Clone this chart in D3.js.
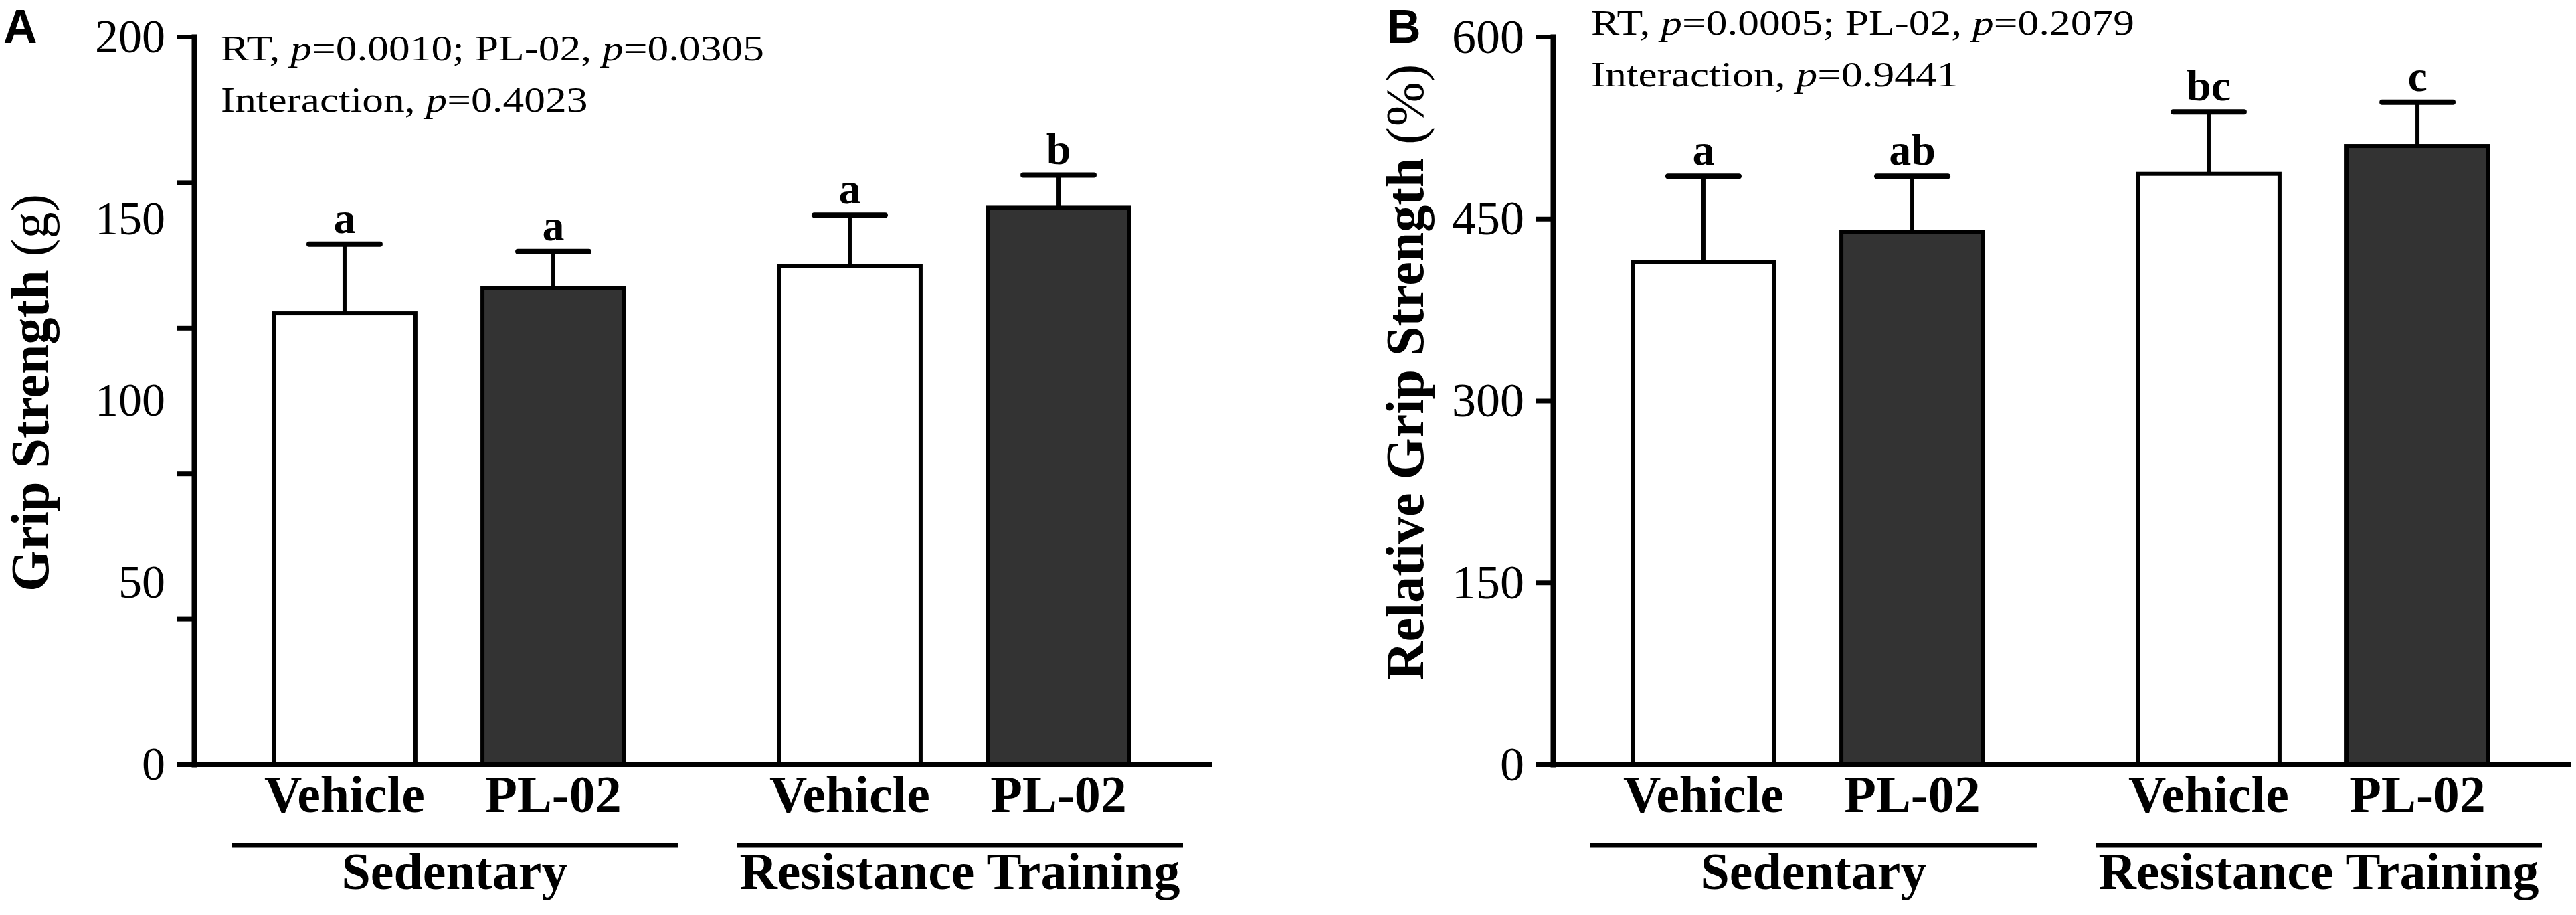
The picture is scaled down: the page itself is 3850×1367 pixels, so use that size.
<!DOCTYPE html>
<html>
<head>
<meta charset="utf-8">
<script src="https://cdn.jsdelivr.net/npm/d3@7"></script>
<style>
  body { margin: 0; background: #fff; }
  text { font-family: "Liberation Serif", "Times New Roman", serif; fill: #000; }
</style>
</head>
<body>
<div id="chart"></div>
<script>
// data
const groups = ["Sedentary", "Resistance Training"];
const treatments = ["Vehicle", "PL-02"];

const gripMean = [124, 131, 137, 153];
const gripSD = [19, 10, 14, 9];
const gripLetters = ["a", "a", "a", "b"];
const gripTickMarks = [0, 40, 80, 120, 160, 200];
const gripTickLabels = [0, 50, 100, 150, 200];
const gripStats = [["RT", "0.0010"], ["PL-02", "0.0305"]];
const gripInteraction = "0.4023";

const relMean = [414, 439, 487, 510];
const relSD = [71, 46, 51, 36];
const relLetters = ["a", "ab", "bc", "c"];
const relTicks = [0, 150, 300, 450, 600];
const relStats = [["RT", "0.0005"], ["PL-02", "0.2079"]];
const relInteraction = "0.9441";

const W = 3850, H = 1367;
const plotTop = 55, plotBottom = 1142;
const serif = "'Liberation Serif', 'Times New Roman', serif";

const svg = d3.select("#chart").append("svg")
  .attr("width", W).attr("height", H)
  .style("background", "#fff");

function statsText(sel, x, y, stats, inter) {
  const t = sel.append("text")
    .attr("transform", `translate(${x},${y}) scale(1.22,1)`)
    .style("font-size", "52px");
  stats.forEach((s, k) => {
    t.append("tspan").text(s[0] + ", ");
    t.append("tspan").style("font-style", "italic").text("p");
    t.append("tspan").text("=" + s[1] + (k < stats.length - 1 ? "; " : ""));
  });
  const t2 = sel.append("text")
    .attr("transform", `translate(${x},${y + 77}) scale(1.22,1)`)
    .style("font-size", "52px");
  t2.append("tspan").text("Interaction, ");
  t2.append("tspan").style("font-style", "italic").text("p");
  t2.append("tspan").text("=" + inter);
}

function panel(o) {
  const g = svg.append("g").attr("transform", `translate(${o.x},0)`);

  const y = d3.scaleLinear().domain(o.domain).range([plotBottom, plotTop]);
  const outer = d3.scaleBand().domain(groups).range([119, 1398]).paddingInner(0.306);
  const inner = d3.scaleBand().domain(treatments).range([0, outer.bandwidth()]).paddingInner(0.321);
  const bw = inner.bandwidth();

  const rows = [];
  groups.forEach((gr, i) => treatments.forEach((t, j) => rows.push({
    group: gr, treat: t,
    mean: o.means[i * 2 + j], sd: o.sds[i * 2 + j], letter: o.letters[i * 2 + j]
  })));
  const cx = d => outer(d.group) + inner(d.treat) + bw / 2;

  // tick marks + axis line
  const ax = g.append("g")
    .call(d3.axisLeft(y).tickValues(o.tickMarks).tickSize(26).tickSizeOuter(0).tickFormat(""));
  ax.select(".domain").attr("stroke", "#000").attr("stroke-width", 8).attr("stroke-linecap", "square");
  ax.selectAll(".tick line").attr("stroke", "#000").attr("stroke-width", 7);

  // tick labels
  const lab = g.append("g")
    .call(d3.axisLeft(y).tickValues(o.tickLabels).tickSize(0).tickPadding(43))
    .attr("font-family", serif)
    .attr("font-size", o.tickFont);
  lab.select(".domain").remove();
  lab.selectAll(".tick text")
    .style("font-family", serif)
    .style("font-size", o.tickFont + "px")
    .attr("fill", "#000");

  // bars
  g.selectAll("rect.bar").data(rows).join("rect")
    .attr("class", "bar")
    .attr("x", d => cx(d) - bw / 2)
    .attr("y", d => y(d.mean))
    .attr("width", bw)
    .attr("height", d => y(0) - y(d.mean))
    .attr("fill", d => d.treat === "PL-02" ? "#333333" : "#ffffff")
    .attr("stroke", "#000")
    .attr("stroke-width", 6);

  // error bars
  g.selectAll("line.err").data(rows).join("line")
    .attr("class", "err")
    .attr("x1", cx).attr("x2", cx)
    .attr("y1", d => y(d.mean)).attr("y2", d => y(d.mean + d.sd))
    .attr("stroke", "#000").attr("stroke-width", 6);
  g.selectAll("line.cap").data(rows).join("line")
    .attr("class", "cap")
    .attr("x1", d => cx(d) - bw / 4).attr("x2", d => cx(d) + bw / 4)
    .attr("y1", d => y(d.mean + d.sd)).attr("y2", d => y(d.mean + d.sd))
    .attr("stroke", "#000").attr("stroke-width", 8).attr("stroke-linecap", "round");

  // letters
  g.selectAll("text.sig").data(rows).join("text")
    .attr("class", "sig")
    .attr("x", cx)
    .attr("y", d => y(d.mean + d.sd) - 17)
    .attr("text-anchor", "middle")
    .style("font-size", "66px").style("font-weight", "bold")
    .text(d => d.letter);

  // x axis line
  g.append("line")
    .attr("x1", -26).attr("x2", 1522)
    .attr("y1", y(0)).attr("y2", y(0))
    .attr("stroke", "#000").attr("stroke-width", 8);

  // category labels
  g.selectAll("text.cat").data(rows).join("text")
    .attr("class", "cat")
    .attr("x", cx).attr("y", 1213)
    .attr("text-anchor", "middle")
    .style("font-size", "78px").style("font-weight", "bold")
    .text(d => d.treat);

  // group lines and labels
  groups.forEach(gr => {
    const x1 = outer(gr) - 63, x2 = outer(gr) + outer.bandwidth() + 80;
    g.append("line")
      .attr("x1", x1).attr("x2", x2).attr("y1", 1263).attr("y2", 1263)
      .attr("stroke", "#000").attr("stroke-width", 7);
    g.append("text")
      .attr("x", (x1 + x2) / 2).attr("y", 1328)
      .attr("text-anchor", "middle")
      .style("font-size", "78px").style("font-weight", "bold")
      .text(gr);
  });

  // y title
  const yt = svg.append("text")
    .attr("transform", `translate(${o.titleX},${o.titleY}) rotate(-90)`)
    .attr("text-anchor", "middle")
    .style("font-size", "80px");
  yt.append("tspan").style("font-weight", "bold").text(o.title + " ");
  yt.append("tspan").text(o.unit);

  // panel letter
  svg.append("text")
    .attr("x", o.letterX).attr("y", o.letterY)
    .style("font-family", "'Liberation Sans', Arial, sans-serif")
    .style("font-size", "70px").style("font-weight", "bold")
    .text(o.letter);

  statsText(svg, o.statsX, o.statsY, o.stats, o.inter);
}

panel({
  x: 290, domain: [0, 200],
  means: gripMean, sds: gripSD, letters: gripLetters,
  tickMarks: gripTickMarks, tickLabels: gripTickLabels, tickFont: 70,
  title: "Grip Strength", unit: "(g)", titleX: 72, titleY: 587,
  letter: "A", letterX: 5, letterY: 64,
  stats: gripStats, inter: gripInteraction, statsX: 330, statsY: 90
});

panel({
  x: 2321, domain: [0, 600],
  means: relMean, sds: relSD, letters: relLetters,
  tickMarks: relTicks, tickLabels: relTicks, tickFont: 72,
  title: "Relative Grip Strength", unit: "(%)", titleX: 2127, titleY: 556,
  letter: "B", letterX: 2073, letterY: 64,
  stats: relStats, inter: relInteraction, statsX: 2378, statsY: 52
});
</script>
</body>
</html>
